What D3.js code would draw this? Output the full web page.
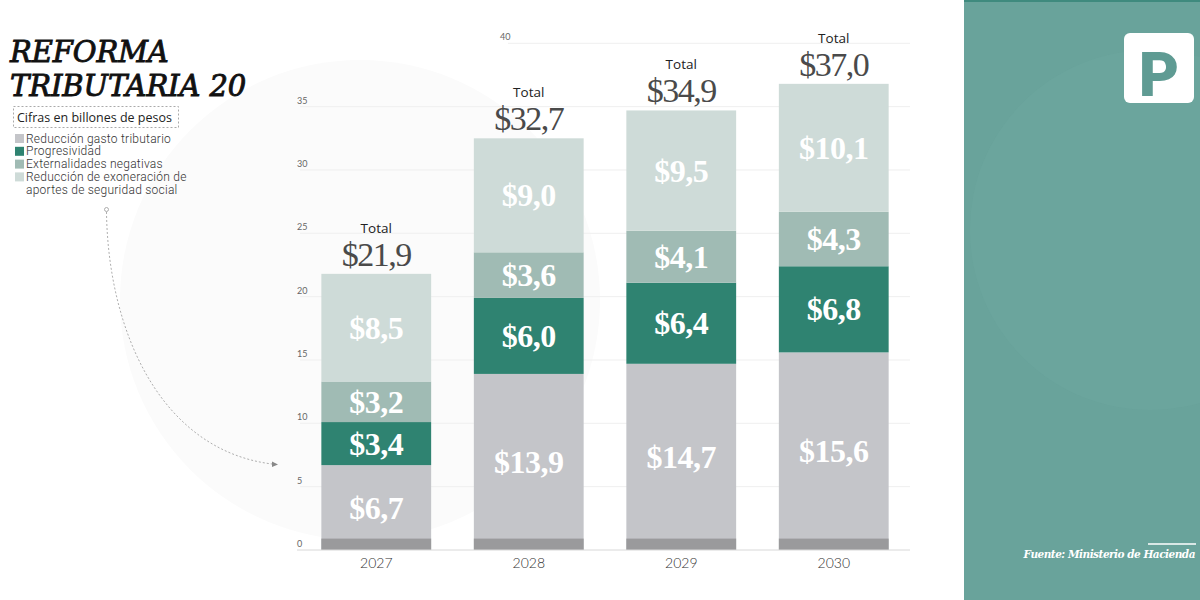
<!DOCTYPE html>
<html>
<head>
<meta charset="utf-8">
<script src="https://cdn.jsdelivr.net/npm/d3@7"></script>
<style>
  body { margin: 0; background: #fff; }
  svg { display: block; }
</style>
</head>
<body>
<svg id="chart" width="1200" height="600"></svg>
<script>
// data (billones de pesos)
const years = ['2027', '2028', '2029', '2030'];
const gastoTributario = [6.7, 13.9, 14.7, 15.6];
const progresividad = [3.4, 6.0, 6.4, 6.8];
const externalidades = [3.2, 3.6, 4.1, 4.3];
const seguridadSocial = [8.5, 9.0, 9.5, 10.1];
const totals = ['$21,9', '$32,7', '$34,9', '$37,0'];
const yTicks = [0, 5, 10, 15, 20, 25, 30, 35, 40];

const seriesKeys = ['gasto', 'prog', 'ext', 'seg'];
const seriesNames = ['Reducción gasto tributario', 'Progresividad', 'Externalidades negativas',
  'Reducción de exoneración de', 'aportes de seguridad social'];
const colors = { gasto: '#c4c5c9', prog: '#2f8371', ext: '#a0bbb4', seg: '#cedbd8' };

const rows = years.map((y, i) => ({
  year: y,
  gasto: gastoTributario[i],
  prog: progresividad[i],
  ext: externalidades[i],
  seg: seguridadSocial[i],
}));

const svg = d3.select('#chart');

// faint background shapes
svg.append('circle').attr('cx', 360).attr('cy', 300).attr('r', 240).attr('fill', '#fbfbfb');

// right panel
svg.append('rect').attr('x', 964).attr('y', 0).attr('width', 236).attr('height', 600).attr('fill', '#69a39b');
svg.append('circle').attr('cx', 1150).attr('cy', 230).attr('r', 180).attr('fill', '#6ea8a0').attr('opacity', 0.5);
svg.append('rect').attr('x', 964).attr('y', 0).attr('width', 236).attr('height', 2).attr('fill', '#3f8a7e');
svg.append('rect').attr('x', 1124).attr('y', 33).attr('width', 70).attr('height', 70).attr('rx', 6).attr('fill', '#fff');
svg.append('text').attr('x', 1159).attr('y', 96).attr('text-anchor', 'middle')
  .attr('font-family', 'Roboto, sans-serif').attr('font-weight', 900).attr('font-size', 62)
  .attr('fill', '#5f9b93').text('P');
svg.append('line').attr('x1', 1148).attr('x2', 1196).attr('y1', 544).attr('y2', 544)
  .attr('stroke', '#fff').attr('stroke-width', 1.5);
svg.append('text').attr('x', 1195).attr('y', 558).attr('text-anchor', 'end')
  .attr('font-family', 'DejaVu Serif, serif').attr('font-style', 'italic').attr('font-weight', 'bold')
  .attr('font-size', 10.5).attr('letter-spacing', -0.5).attr('fill', '#fff').text('Fuente: Ministerio de Hacienda');

// scales
const x = d3.scaleBand().domain(years).range([300, 910]).paddingInner(0.28).paddingOuter(0.14);
const y = d3.scaleLinear().domain([0, 40]).range([550, 43.3]);

// grid + tick labels
const grid = svg.append('g');
yTicks.forEach((t) => {
  const x0 = t === 40 ? 508 : 300;
  if (t > 0) {
    grid.append('line').attr('x1', x0).attr('x2', 910).attr('y1', y(t)).attr('y2', y(t))
      .attr('stroke', '#efefef').attr('stroke-width', 1);
  }
  grid.append('text').attr('x', t === 40 ? 500 : 297).attr('y', y(t) - 3)
    .attr('font-family', 'Lato, sans-serif').attr('font-size', 9).attr('fill', '#666').text(t);
});

// stacked bars
const stack = d3.stack().keys(seriesKeys)(rows);
const layers = svg.append('g').selectAll('g').data(stack).join('g')
  .attr('fill', (d) => colors[d.key]);
layers.selectAll('rect').data((d) => d).join('rect')
  .attr('x', (d) => x(d.data.year))
  .attr('width', x.bandwidth())
  .attr('y', (d) => y(d[1]))
  .attr('height', (d) => y(d[0]) - y(d[1]));

// darker foot on each bar
svg.append('g').selectAll('rect').data(rows).join('rect')
  .attr('x', (d) => x(d.year)).attr('width', x.bandwidth())
  .attr('y', y(0.9)).attr('height', y(0) - y(0.9)).attr('fill', '#9a9a9c');

// segment labels
layers.selectAll('text').data((d) => d).join('text')
  .attr('x', (d) => x(d.data.year) + x.bandwidth() / 2)
  .attr('y', (d) => (y(d[0]) + y(d[1])) / 2 + 11)
  .attr('text-anchor', 'middle')
  .attr('font-family', 'Liberation Serif, serif').attr('font-weight', 'bold')
  .attr('font-size', 32).attr('letter-spacing', -0.5)
  .attr('fill', '#fff')
  .text((d) => `$${d3.format('.1f')(d[1] - d[0]).replace('.', ',')}`);

// totals
const barTops = rows.map((r) => r.gasto + r.prog + r.ext + r.seg);
const tot = svg.append('g').selectAll('g').data(rows).join('g');
tot.append('text')
  .attr('x', (d) => x(d.year) + x.bandwidth() / 2)
  .attr('y', (d, i) => y(barTops[i]) - 41)
  .attr('text-anchor', 'middle')
  .attr('font-family', 'Open Sans, sans-serif').attr('font-size', 13.5).attr('fill', '#222')
  .text('Total');
tot.append('text')
  .attr('x', (d) => x(d.year) + x.bandwidth() / 2)
  .attr('y', (d, i) => y(barTops[i]) - 8)
  .attr('text-anchor', 'middle')
  .attr('font-family', 'Liberation Serif, serif').attr('font-size', 34).attr('letter-spacing', -1.5)
  .attr('fill', '#4a4a4a')
  .text((d, i) => totals[i]);

// baseline + x axis labels
svg.append('line').attr('x1', 297).attr('x2', 910).attr('y1', y(0)).attr('y2', y(0))
  .attr('stroke', '#d8d8d8');
const xAxis = svg.append('g').attr('transform', `translate(0,${y(0)})`)
  .call(d3.axisBottom(x).tickSize(0).tickPadding(8));
xAxis.select('.domain').remove();
xAxis.selectAll('text').attr('font-family', 'Lato, sans-serif').attr('font-weight', 300)
  .attr('font-size', 14).attr('fill', '#333');

// title
const title = svg.append('g').attr('font-family', 'DejaVu Serif, serif').attr('font-style', 'italic')
  .attr('font-size', 29).attr('fill', '#111').attr('stroke', '#111').attr('stroke-width', 0.9)
  .attr('letter-spacing', -0.1);
title.append('text').attr('x', 10).attr('y', 62).text('REFORMA');
title.append('text').attr('x', 10).attr('y', 96).text('TRIBUTARIA 20');

// subtitle box
svg.append('rect').attr('x', 13.5).attr('y', 106.5).attr('width', 165).attr('height', 21)
  .attr('fill', 'none').attr('stroke', '#aaa').attr('stroke-dasharray', '2,2');
svg.append('text').attr('x', 17).attr('y', 122).attr('font-family', 'Open Sans, sans-serif')
  .attr('font-size', 12.5).attr('fill', '#222').text('Cifras en billones de pesos');

// legend
const legend = svg.append('g');
seriesNames.forEach((name, i) => {
  const ly = 142.5 + i * 12.8;
  if (i < 4) {
    legend.append('rect').attr('x', 15).attr('y', ly - 8.5).attr('width', 9).attr('height', 9)
      .attr('fill', colors[seriesKeys[i]]);
  }
  legend.append('text').attr('x', 26).attr('y', ly).attr('font-family', 'Roboto, sans-serif')
    .attr('font-weight', 300).attr('font-size', 12).attr('letter-spacing', 0.25)
    .attr('fill', '#333').text(name);
});

// dashed pointer
svg.append('circle').attr('cx', 106.5).attr('cy', 209.5).attr('r', 2)
  .attr('fill', '#fff').attr('stroke', '#999').attr('stroke-width', 0.8);
svg.append('path').attr('d', 'M106.5,212 C108,330 160,450 272,464')
  .attr('fill', 'none').attr('stroke', '#999').attr('stroke-width', 0.8).attr('stroke-dasharray', '2,2');
svg.append('path').attr('d', 'M272,461.5 L278,464.5 L272,467 Z').attr('fill', '#888');
</script>
</body>
</html>
